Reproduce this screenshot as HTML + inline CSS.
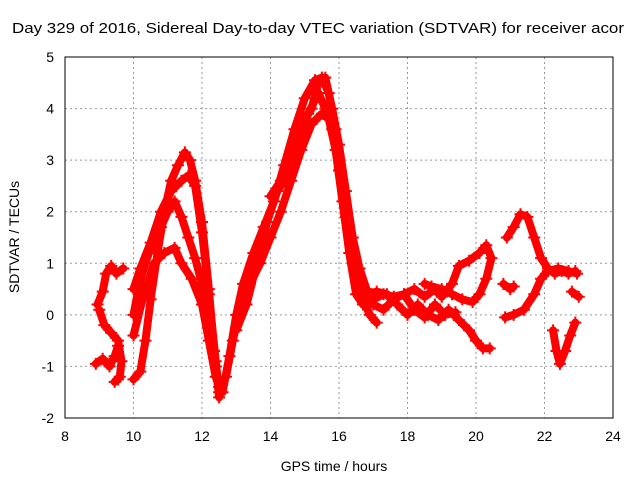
<!DOCTYPE html>
<html><head><meta charset="utf-8"><style>
body{margin:0;background:#fff}
text{font-family:"Liberation Sans",sans-serif;font-size:14px;fill:#000}
</style></head><body>
<svg id="chart" width="640" height="480" viewBox="0 0 640 480">
<text x="12" y="33" textLength="612" lengthAdjust="spacingAndGlyphs" style="font-size:15px">Day 329 of 2016, Sidereal Day-to-day VTEC variation (SDTVAR) for receiver acor</text>
<text x="334" y="471" text-anchor="middle">GPS time / hours</text>
<text transform="translate(19,237) rotate(-90)" text-anchor="middle">SDTVAR / TECUs</text>
<g id="grid"></g><g id="ticks"></g><g id="series"></g>
<rect x="65" y="57" width="548" height="361" fill="none" stroke="#000" stroke-width="1"/>
</svg>
<script>
const xTicks=[8,10,12,14,16,18,20,22,24];
const yTicks=[-2,-1,0,1,2,3,4,5];
const t1=[[8.95,0.2],[9.1,0.45],[9.2,0.8],[9.35,0.95],[9.5,0.8],[9.7,0.9]];
const t2=[[9.0,0.1],[9.15,-0.2],[9.35,-0.35],[9.55,-0.5],[9.65,-0.9],[9.6,-1.2],[9.45,-1.3],[9.55,-1.25]];
const t3=[[8.9,-0.95],[9.1,-0.85],[9.3,-1.0],[9.45,-0.8],[9.55,-0.6]];
const t4=[[10.0,-1.25],[10.2,-1.1],[10.35,-0.5],[10.5,0.3],[10.7,1.2],[10.9,2.0],[11.1,2.6],[11.3,2.9],[11.5,3.15],[11.65,3.0],[11.8,2.6],[12.0,1.8],[12.2,0.5],[12.35,-0.7],[12.5,-1.6]];
const t5=[[10.0,0.5],[10.2,0.9],[10.5,1.4],[10.8,2.0],[11.1,2.4],[11.4,2.6],[11.6,2.7],[11.8,2.5],[12.0,1.6],[12.2,0.4],[12.4,-0.9],[12.5,-1.5]];
const t6=[[10.0,0.0],[10.2,0.7],[10.5,1.3],[10.8,1.7],[11.0,2.0],[11.2,2.2],[11.4,1.9],[11.6,1.5],[11.8,1.1],[12.0,0.6],[12.2,-0.2],[12.4,-1.0]];
const t7=[[10.0,-0.4],[10.3,0.4],[10.6,1.0],[10.9,1.2],[11.2,1.3],[11.4,1.0],[11.7,0.7],[12.0,0.2],[12.2,-0.5],[12.4,-1.2],[12.5,-1.4]];
const t8=[[12.6,-1.5],[12.8,-0.8],[13.0,0.0],[13.2,0.6],[13.5,1.2],[13.8,1.7],[14.1,2.2],[14.4,2.9],[14.7,3.6],[15.0,4.2],[15.3,4.55],[15.5,4.6],[15.7,4.3],[15.9,3.6],[16.1,2.6],[16.3,1.6],[16.5,0.8],[16.7,0.3],[16.9,0.0],[17.1,-0.15]];
const t9=[[12.7,-1.2],[12.9,-0.5],[13.1,0.1],[13.4,0.6],[13.7,1.0],[14.0,1.5],[14.3,2.0],[14.6,2.6],[14.9,3.2],[15.2,3.7],[15.5,3.9],[15.7,3.8],[15.9,3.2],[16.1,2.2],[16.3,1.2],[16.5,0.4],[16.7,0.2],[17.0,0.3],[17.3,0.4],[17.6,0.35],[17.9,0.4],[18.2,0.5],[18.5,0.35],[18.8,0.5],[19.0,0.35],[19.3,0.6],[19.5,0.95],[19.8,1.05],[20.1,1.2],[20.3,1.35],[20.45,1.1],[20.3,0.7],[20.1,0.4],[19.9,0.25],[19.6,0.3],[19.3,0.4],[19.0,0.5],[18.7,0.55],[18.5,0.6]];
const t10=[[13.0,-0.3],[13.3,0.2],[13.6,1.0],[13.9,1.8],[14.2,2.4],[14.5,2.7],[14.8,3.3],[15.1,3.9],[15.4,4.3],[15.6,4.0],[15.8,3.6],[16.0,2.8],[16.2,1.9],[16.4,1.0],[16.6,0.5],[16.8,0.4],[17.1,0.45],[17.4,0.4],[17.7,0.2],[18.0,0.0],[18.3,0.2],[18.6,0.0],[18.9,-0.1],[19.2,0.1],[19.5,-0.1],[19.8,-0.3],[20.0,-0.5],[20.2,-0.65],[20.4,-0.65]];
const t11=[[14.0,2.3],[14.3,2.6],[14.6,3.0],[14.9,3.7],[15.2,4.0],[15.4,4.5],[15.6,4.6],[15.8,4.0],[16.0,3.3],[16.2,2.4],[16.4,1.5],[16.6,0.9],[16.8,0.5],[17.0,0.2],[17.3,0.1],[17.6,0.3],[17.9,0.4],[18.2,0.1],[18.5,-0.05],[18.8,0.2],[19.1,0.0],[19.4,0.05]];
const t12=[[20.9,1.5],[21.1,1.7],[21.3,1.95],[21.5,1.9],[21.7,1.5],[21.9,1.1],[22.1,0.9],[22.3,0.8],[22.5,0.85],[22.7,0.8],[22.9,0.85]];
const t13=[[20.85,-0.05],[21.1,0.0],[21.4,0.1],[21.7,0.4],[21.9,0.7],[22.1,0.85],[22.4,0.9],[22.7,0.85],[22.95,0.8]];
const t14=[[20.8,0.6],[21.0,0.5],[21.1,0.55]];
const t15=[[22.8,0.45],[23.0,0.35]];
const t16=[[22.25,-0.3],[22.35,-0.7],[22.45,-0.95],[22.6,-0.7],[22.75,-0.4],[22.9,-0.15]];
const allSeries=[t1,t2,t3,t4,t5,t6,t7,t8,t9,t10,t11,t12,t13,t14,t15,t16];
const NS="http://www.w3.org/2000/svg";
const X=v=>65+(v-8)*548/16;
const Y=v=>418-(v+2)*361/7;
const grid=document.getElementById('grid'),ticks=document.getElementById('ticks'),ser=document.getElementById('series');
function mk(tag,attrs,parent){const e=document.createElementNS(NS,tag);for(const k in attrs)e.setAttribute(k,attrs[k]);parent.appendChild(e);return e;}
xTicks.forEach(v=>{
 if(v>8&&v<24){const g=mk('line',{x1:X(v),x2:X(v),y1:57,y2:418,stroke:'#999','stroke-dasharray':'2,3'},grid);
 
 }
 const t=mk('text',{x:X(v),y:441,'text-anchor':'middle'},ticks);t.textContent=v;
 
 
});
yTicks.forEach(v=>{
 if(v>-2&&v<5){const g=mk('line',{x1:65,x2:613,y1:Y(v),y2:Y(v),stroke:'#999','stroke-dasharray':'2,3'},grid);
 
 }
 const t=mk('text',{x:54,y:Y(v)+5,'text-anchor':'end'},ticks);t.textContent=v;
 
 
});
allSeries.forEach((s,i)=>{
 const p=mk('polyline',{points:s.map(d=>X(d[0])+','+Y(d[1])).join(' '),fill:'none',stroke:'#f00','stroke-width':8,'stroke-linejoin':'round','stroke-linecap':'round'},ser);
 
 
 s.forEach(d=>{
  const x=X(d[0]),y=Y(d[1]);
  const m=mk('path',{d:`M${x-6},${y}H${x+6}M${x},${y-6}V${y+6}`,stroke:'#f00','stroke-width':2},ser);
  
  
 });
});
</script>
</body></html>
